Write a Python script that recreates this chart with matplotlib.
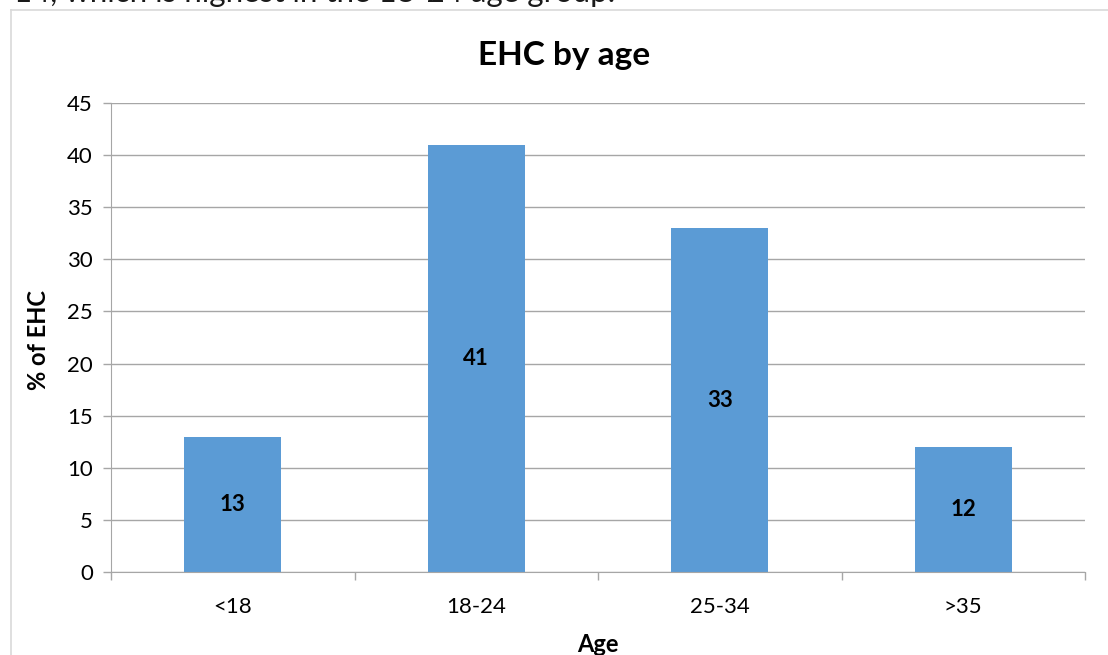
import matplotlib
matplotlib.use("Agg")
import matplotlib.pyplot as plt
from matplotlib.lines import Line2D

# Data
categories = ["<18", "18-24", "25-34", ">35"]
values = [13, 41, 33, 12]
y_ticks = [0, 5, 10, 15, 20, 25, 30, 35, 40, 45]

title = "EHC by age"
x_label = "Age"
y_label = "% of EHC"
caption = "14, which is highest in the 18-24 age group."

plt.rcParams["font.family"] = ["Lato", "DejaVu Sans"]

W, H = 1108, 655
fig = plt.figure(figsize=(W / 100, H / 100), dpi=100)
fig.patch.set_facecolor("white")

# Chart frame (left and top edges visible)
fig.add_artist(Line2D([11 / W, 11 / W], [0, 1 - 10 / H], color="#d9d9d9", lw=1.2))
fig.add_artist(Line2D([11 / W, 1], [1 - 10 / H, 1 - 10 / H], color="#d9d9d9", lw=1.2))

# Surrounding document text, clipped by the top of the page
fig.text(14 / W, 1 - 2 / H, caption, fontsize=22.5, color="#1a1a1a",
         ha="left", va="baseline")

left, right, top, bottom = 111, 1085, 103, 572
ax = fig.add_axes([left / W, 1 - bottom / H, (right - left) / W, (bottom - top) / H])

x = list(range(len(categories)))
ax.bar(x, values, width=0.4, color="#5b9bd5", zorder=3)
ax.set_xlim(-0.5, len(categories) - 0.5)
ax.set_ylim(0, 45)

ax.set_yticks(y_ticks)
ax.set_yticklabels([str(t) for t in y_ticks], fontsize=16)
ax.set_xticks(x)
ax.set_xticklabels(categories, fontsize=16)
ax.tick_params(axis="x", length=0, pad=18)
ax.tick_params(axis="y", length=6, width=1, color="#a6a6a6", pad=7)

# Category boundary ticks on the x axis
ax.set_xticks([i - 0.5 for i in range(len(categories) + 1)], minor=True)
ax.tick_params(axis="x", which="minor", length=6, width=1, color="#a6a6a6")

ax.grid(axis="y", color="#a6a6a6", lw=1, zorder=0)
for s in ["top", "right"]:
    ax.spines[s].set_visible(False)
for s in ["left", "bottom"]:
    ax.spines[s].set_color("#a6a6a6")
    ax.spines[s].set_zorder(4)

for xi, v in zip(x, values):
    ax.text(xi, v / 2, str(v), ha="center", va="center", fontsize=16,
            fontweight="bold", color="black", zorder=5)

fig.text(564 / W, 1 - 55 / H, title, ha="center", va="center",
         fontsize=24, fontweight="bold")
fig.text(598 / W, 1 - 645 / H, x_label, ha="center", va="center",
         fontsize=17, fontweight="bold")
fig.text(38 / W, 1 - 340 / H, y_label, ha="center", va="center",
         fontsize=17, fontweight="bold", rotation=90)

fig.savefig("out.png", dpi=100)
